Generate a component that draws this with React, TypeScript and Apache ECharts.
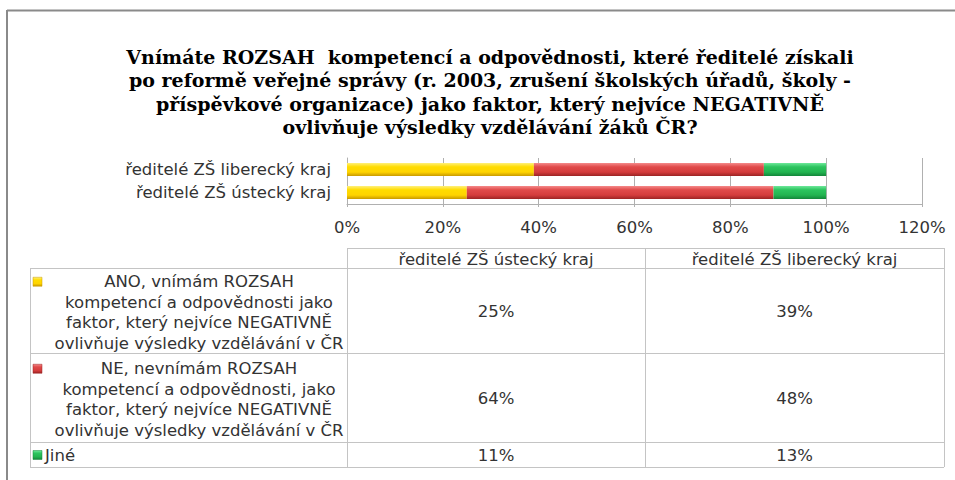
import React, { useEffect, useRef } from 'react';
import * as echarts from 'echarts';

const titleLines = [
  'Vnímáte ROZSAH  kompetencí a odpovědnosti, které ředitelé získali',
  'po reformě veřejné správy (r. 2003, zrušení školských úřadů, školy -',
  'příspěvkové organizace) jako faktor, který nejvíce NEGATIVNĚ',
  'ovlivňuje výsledky vzdělávání žáků ČR?',
];
// bottom -> top on the chart
const categories = ['ředitelé ZŠ ústecký kraj', 'ředitelé ZŠ liberecký kraj'];
const seriesNames = [
  'ANO, vnímám ROZSAH kompetencí a odpovědnosti jako faktor, který nejvíce NEGATIVNĚ ovlivňuje výsledky vzdělávání v ČR',
  'NE, nevnímám ROZSAH kompetencí a odpovědnosti, jako faktor, který nejvíce NEGATIVNĚ ovlivňuje výsledky vzdělávání v ČR',
  'Jiné',
];
const seriesLabelLines = [
  ['ANO, vnímám ROZSAH', 'kompetencí a odpovědnosti jako', 'faktor, který nejvíce NEGATIVNĚ', 'ovlivňuje výsledky vzdělávání v ČR'],
  ['NE, nevnímám ROZSAH', 'kompetencí a odpovědnosti, jako', 'faktor, který nejvíce NEGATIVNĚ', 'ovlivňuje výsledky vzdělávání v ČR'],
  ['Jiné'],
];
const anoValues = [25, 39];
const neValues = [64, 48];
const jineValues = [11, 13];
const xTicks = [0, 20, 40, 60, 80, 100, 120];

const FONT = '"DejaVu Sans", Verdana, sans-serif';
const FS = 16.5;
const TXT = '#333333';
const GRID_C = '#b0b0b0';
const TABLE_C = '#c4c4c4';

const barColors = [
  ['#fff07a', '#ffdc00', '#ffd400', '#c99a00'],
  ['#f58a8a', '#e04a4a', '#d43c3c', '#9c2424'],
  ['#6ee89a', '#2cc45e', '#22b450', '#13863a'],
];

function grad(c: string[]) {
  return new echarts.graphic.LinearGradient(0, 0, 0, 1, [
    { offset: 0, color: c[0] },
    { offset: 0.3, color: c[1] },
    { offset: 0.7, color: c[2] },
    { offset: 1, color: c[3] },
  ]);
}

export default function App() {
  const ref = useRef<HTMLDivElement>(null);
  useEffect(() => {
    const chart = echarts.init(ref.current!, null, { renderer: 'svg' });
    const allValues = [anoValues, neValues, jineValues];

    // table geometry
    const tL = 30, tC1 = 347, tC2 = 645, tR = 944;
    const hTop = 248, hBot = 268;
    const rowBounds = [268, 353, 442, 467];
    const colCenters = [(tC1 + tC2) / 2, (tC2 + tR) / 2];
    const colOrder = [0, 1];

    const g: any[] = [];
    // outer frame
    g.push({ type: 'line', shape: { x1: 7, y1: 10.5, x2: 960, y2: 10.5 }, style: { stroke: '#8a8a8a', lineWidth: 2 } });
    g.push({ type: 'line', shape: { x1: 7, y1: 10, x2: 7, y2: 485 }, style: { stroke: '#8a8a8a', lineWidth: 2 } });
    // title
    g.push({
      type: 'text', x: 490, y: 45,
      style: {
        text: titleLines.join('\n'), textAlign: 'center', textVerticalAlign: 'top',
        fontFamily: '"DejaVu Serif", "Liberation Serif", serif', fontWeight: 'bold', fontSize: 19,
        lineHeight: 23.5, fill: '#000',
      },
    });
    // table lines
    const hl = (x1: number, x2: number, y: number) =>
      g.push({ type: 'line', shape: { x1, y1: y + 0.5, x2, y2: y + 0.5 }, style: { stroke: TABLE_C, lineWidth: 1 } });
    const vl = (x: number, y1: number, y2: number) =>
      g.push({ type: 'line', shape: { x1: x + 0.5, y1, x2: x + 0.5, y2 }, style: { stroke: TABLE_C, lineWidth: 1 } });
    hl(tC1, tR, hTop);
    rowBounds.forEach((y) => hl(tL, tR, y));
    vl(tL, rowBounds[0], rowBounds[3]);
    vl(tC1, hTop, rowBounds[3]);
    vl(tC2, hTop, rowBounds[3]);
    vl(tR, hTop, rowBounds[3]);
    // header texts
    colOrder.forEach((ci, k) => {
      g.push({
        type: 'text', x: colCenters[k], y: (hTop + hBot) / 2 + 1,
        style: { text: categories[ci], textAlign: 'center', textVerticalAlign: 'middle', fontFamily: FONT, fontSize: FS, fill: TXT },
      });
    });
    // rows
    seriesNames.forEach((name, si) => {
      const y0 = rowBounds[si], y1 = rowBounds[si + 1];
      const yc = (y0 + y1) / 2;
      const lines = seriesLabelLines[si];
      const lh = 20.5;
      const multi = lines.length > 1;
      const textY = multi ? yc + 2 : yc + 0.5;
      const firstLineY = textY - ((lines.length - 1) * lh) / 2;
      g.push({
        type: 'rect', shape: { x: 33, y: firstLineY - 4.5, width: 9, height: 9 },
        style: { fill: grad(barColors[si]), stroke: barColors[si][3], lineWidth: 0.5 },
      });
      g.push({
        type: 'text', x: multi ? 199 : 45, y: textY,
        style: {
          text: lines.join('\n'), textAlign: multi ? 'center' : 'left', textVerticalAlign: 'middle',
          fontFamily: FONT, fontSize: FS, lineHeight: lh, fill: TXT,
        },
      });
      colOrder.forEach((ci, k) => {
        g.push({
          type: 'text', x: colCenters[k], y: yc + 0.5,
          style: { text: allValues[si][ci] + '%', textAlign: 'center', textVerticalAlign: 'middle', fontFamily: FONT, fontSize: FS, fill: TXT },
        });
      });
    });

    const option: any = {
      animation: false,
      backgroundColor: '#fff',
      grid: { left: 347, right: 33, top: 158, bottom: 276, containLabel: false },
      xAxis: {
        type: 'value', min: xTicks[0], max: xTicks[xTicks.length - 1], interval: xTicks[1] - xTicks[0],
        axisLine: { show: true, lineStyle: { color: GRID_C } },
        axisTick: { show: true, length: 3, lineStyle: { color: GRID_C } },
        splitLine: { show: true, lineStyle: { color: GRID_C } },
        axisLabel: { formatter: '{value}%', color: TXT, fontFamily: FONT, fontSize: FS, margin: 15 },
      },
      yAxis: {
        type: 'category', data: categories,
        axisLine: { show: true, lineStyle: { color: GRID_C } },
        axisTick: { show: false },
        axisLabel: { interval: 0, color: TXT, fontFamily: FONT, fontSize: FS, margin: 16 },
      },
      series: seriesNames.map((name, si) => ({
        name, type: 'bar', stack: 'total', barWidth: 13,
        data: allValues[si],
        itemStyle: { color: grad(barColors[si]) },
      })),
      graphic: g,
    };
    chart.setOption(option);
    return () => chart.dispose();
  }, []);
  return (
    <div
      ref={ref}
      style={{ position: 'absolute', left: 0, top: 0, width: 955, height: 480, background: '#fff' }}
    />
  );
}
